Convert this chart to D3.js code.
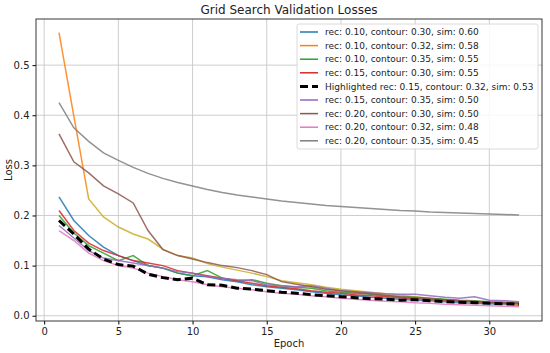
<!DOCTYPE html>
<html>

<head>
  <meta charset='utf-8'>
  <style>
    body { margin: 0; background: #fff; }
    text { font-family: 'DejaVu Sans', sans-serif; fill: #222; }
  </style>
  <script src='https://cdn.jsdelivr.net/npm/d3@7'></script>
</head>

<body>

  <script>

    let [width, height] = [550, 353]
    let margin = { top: 19, right: 8, bottom: 32, left: 36 }

    let epochs = d3.range(1, 33)
    let xTicks = [0, 5, 10, 15, 20, 25, 30]
    let yTicks = [0.0, 0.1, 0.2, 0.3, 0.4, 0.5]

    let labels = [
      'rec: 0.10, contour: 0.30, sim: 0.60',
      'rec: 0.10, contour: 0.32, sim: 0.58',
      'rec: 0.10, contour: 0.35, sim: 0.55',
      'rec: 0.15, contour: 0.30, sim: 0.55',
      'Highlighted rec: 0.15, contour: 0.32, sim: 0.53',
      'rec: 0.15, contour: 0.35, sim: 0.50',
      'rec: 0.20, contour: 0.30, sim: 0.50',
      'rec: 0.20, contour: 0.32, sim: 0.48',
      'rec: 0.20, contour: 0.35, sim: 0.45'
    ]
    let colors = ['#1f77b4', '#ff7f0e', '#2ca02c', '#d62728', '#000000', '#9467bd', '#8c564b', '#e377c2', '#7f7f7f']

    // loss per epoch
    let blue = [0.237, 0.19, 0.16, 0.137, 0.12, 0.11, 0.1, 0.095, 0.085, 0.08, 0.078, 0.072, 0.068, 0.062, 0.058, 0.055,
      0.052, 0.048, 0.045, 0.042, 0.04, 0.037, 0.035, 0.033, 0.031, 0.03, 0.028, 0.026, 0.025, 0.024, 0.023, 0.021]
    let orange = [0.565, 0.398, 0.233, 0.197, 0.177, 0.163, 0.153, 0.133, 0.12, 0.115, 0.104, 0.097, 0.091, 0.085, 0.078, 0.07,
      0.066, 0.062, 0.057, 0.053, 0.05, 0.047, 0.044, 0.041, 0.038, 0.035, 0.032, 0.03, 0.028, 0.026, 0.024, 0.022]
    let green = [0.2, 0.165, 0.14, 0.125, 0.11, 0.12, 0.1, 0.095, 0.085, 0.08, 0.09, 0.075, 0.07, 0.072, 0.065, 0.06,
      0.057, 0.055, 0.05, 0.047, 0.045, 0.043, 0.04, 0.038, 0.037, 0.035, 0.033, 0.031, 0.03, 0.028, 0.027, 0.026]
    let red = [0.21, 0.17, 0.145, 0.13, 0.12, 0.11, 0.105, 0.1, 0.09, 0.085, 0.08, 0.075, 0.07, 0.065, 0.06, 0.057,
      0.054, 0.05, 0.047, 0.045, 0.042, 0.04, 0.038, 0.036, 0.034, 0.032, 0.031, 0.029, 0.028, 0.026, 0.025, 0.024]
    let best = [0.19, 0.163, 0.133, 0.113, 0.102, 0.099, 0.083, 0.076, 0.072, 0.075, 0.062, 0.061, 0.055, 0.053, 0.05, 0.047,
      0.045, 0.042, 0.04, 0.038, 0.036, 0.034, 0.033, 0.031, 0.032, 0.03, 0.028, 0.027, 0.026, 0.025, 0.024, 0.023]
    let purple = [0.18, 0.155, 0.13, 0.115, 0.11, 0.105, 0.1, 0.095, 0.088, 0.085, 0.078, 0.075, 0.072, 0.07, 0.062, 0.06,
      0.058, 0.06, 0.055, 0.05, 0.048, 0.046, 0.044, 0.043, 0.043, 0.04, 0.037, 0.035, 0.038, 0.031, 0.03, 0.028]
    let brown = [0.363, 0.307, 0.285, 0.259, 0.243, 0.225, 0.17, 0.132, 0.12, 0.113, 0.106, 0.1, 0.096, 0.09, 0.082, 0.068,
      0.063, 0.058, 0.053, 0.05, 0.047, 0.044, 0.041, 0.038, 0.036, 0.034, 0.032, 0.03, 0.029, 0.027, 0.026, 0.025]
    let pink = [0.17, 0.15, 0.125, 0.11, 0.1, 0.095, 0.085, 0.078, 0.072, 0.068, 0.062, 0.058, 0.055, 0.052, 0.048, 0.045,
      0.043, 0.04, 0.038, 0.035, 0.033, 0.031, 0.029, 0.028, 0.026, 0.025, 0.023, 0.022, 0.021, 0.02, 0.019, 0.018]
    let gray = [0.425, 0.375, 0.348, 0.325, 0.31, 0.296, 0.284, 0.274, 0.266, 0.259, 0.252, 0.246, 0.241, 0.237, 0.233, 0.229,
      0.226, 0.223, 0.22, 0.218, 0.216, 0.214, 0.212, 0.21, 0.209, 0.207, 0.206, 0.205, 0.204, 0.203, 0.202, 0.201]

    let series = [blue, orange, green, red, best, purple, brown, pink, gray]
    let highlight = 4

    let x = d3.scaleLinear([-0.55, 33.55], [margin.left, width - margin.right])
    let y = d3.scaleLinear([-0.0105, 0.592], [height - margin.bottom, margin.top])

    let svg = d3.select('body').append('svg')
      .attr('width', width)
      .attr('height', height)

    // grid
    svg.append('g').selectAll('line')
      .data(xTicks).join('line')
      .attr('x1', d => x(d)).attr('x2', d => x(d))
      .attr('y1', margin.top).attr('y2', height - margin.bottom)
      .attr('stroke', '#c8c8c8').attr('stroke-width', 0.9)
    svg.append('g').selectAll('line')
      .data(yTicks).join('line')
      .attr('y1', d => y(d)).attr('y2', d => y(d))
      .attr('x1', margin.left).attr('x2', width - margin.right)
      .attr('stroke', '#c8c8c8').attr('stroke-width', 0.9)

    // orange run fades to olive once it joins the pack
    let grad = svg.append('defs').append('linearGradient')
      .attr('id', 'og').attr('gradientUnits', 'userSpaceOnUse')
      .attr('x1', x(1)).attr('x2', x(32)).attr('y1', 0).attr('y2', 0)
    let cut = (2.75 - 1) / 31
    grad.append('stop').attr('offset', 0).attr('stop-color', '#ff7f0e')
    grad.append('stop').attr('offset', cut).attr('stop-color', '#ff7f0e')
    grad.append('stop').attr('offset', cut + 0.01).attr('stop-color', '#c9ad22')
    grad.append('stop').attr('offset', 1).attr('stop-color', '#c9ad22')

    let line = d3.line().x((d, i) => x(epochs[i])).y(d => y(d))

    let lines = svg.append('g').attr('fill', 'none')
    series.forEach((s, i) => {
      if (i == highlight) return
      lines.append('path')
        .attr('d', line(s))
        .attr('stroke', i == 1 ? 'url(#og)' : colors[i])
        .attr('stroke-opacity', 0.85)
        .attr('stroke-width', 1.5)
    })
    lines.append('path')
      .attr('d', line(series[highlight]))
      .attr('stroke', '#000')
      .attr('stroke-width', 3)
      .attr('stroke-dasharray', '8,4')

    // axes
    let xAxis = svg.append('g')
      .attr('transform', `translate(0,${height - margin.bottom})`)
      .call(d3.axisBottom(x).tickValues(xTicks).tickSize(3.5).tickPadding(3))
    let yAxis = svg.append('g')
      .attr('transform', `translate(${margin.left},0)`)
      .call(d3.axisLeft(y).tickValues(yTicks).tickFormat(d3.format('.1f')).tickSize(3.5).tickPadding(3))
    svg.selectAll('.tick text').attr('font-size', 10).attr('font-family', 'DejaVu Sans').attr('fill', '#222')
    svg.selectAll('.domain').remove()

    svg.append('rect')
      .attr('x', margin.left).attr('y', margin.top)
      .attr('width', width - margin.left - margin.right)
      .attr('height', height - margin.top - margin.bottom)
      .attr('fill', 'none').attr('stroke', '#222').attr('stroke-width', 0.9)

    svg.append('text')
      .attr('x', (margin.left + width - margin.right) / 2).attr('y', 14)
      .attr('text-anchor', 'middle').attr('font-size', 12)
      .text('Grid Search Validation Losses')
    svg.append('text')
      .attr('x', (margin.left + width - margin.right) / 2).attr('y', 347)
      .attr('text-anchor', 'middle').attr('font-size', 10)
      .text('Epoch')
    svg.append('text')
      .attr('transform', `translate(12,${(margin.top + height - margin.bottom) / 2}) rotate(-90)`)
      .attr('text-anchor', 'middle').attr('font-size', 10)
      .text('Loss')

    // legend
    let legend = svg.append('g').attr('transform', 'translate(297,24)')
    legend.append('rect')
      .attr('width', 241).attr('height', 125).attr('rx', 2)
      .attr('fill', '#fff').attr('fill-opacity', 0.85)
      .attr('stroke', '#d6d6d6').attr('stroke-width', 0.9)
    let item = legend.selectAll('g.item')
      .data(labels).join('g')
      .attr('transform', (d, i) => `translate(0,${8 + i * 13.6})`)
    item.append('line')
      .attr('x1', 3).attr('x2', 21)
      .attr('stroke', (d, i) => colors[i])
      .attr('stroke-width', (d, i) => i == highlight ? 3 : 1.5)
      .attr('stroke-dasharray', (d, i) => i == highlight ? '8,4' : null)
    item.append('text')
      .attr('x', 28).attr('dy', '0.35em')
      .attr('font-size', 9)
      .text(d => d)
  </script>
</body>

</html>
